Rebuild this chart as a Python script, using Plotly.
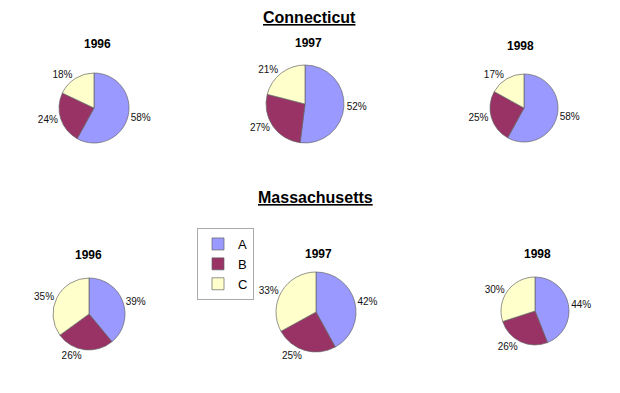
import plotly.graph_objects as go

categories = ["A", "B", "C"]
colors = ["#9999FF", "#993366", "#FFFFCC"]
years = ["1996", "1997", "1998"]
ct_values = [[58, 24, 18], [52, 27, 21], [58, 25, 17]]
ma_values = [[39, 26, 35], [42, 25, 33], [44, 26, 30]]

W, H = 620, 393
# pixel centers and radii for pies (layout only)
ct_layout = [(94, 108, 35), (305, 104, 39), (524, 108, 34)]
ma_layout = [(89, 314, 36), (316, 312, 40), (535, 311, 34)]
ct_title_pos = [(97, 44), (308, 43), (520, 46)]
ma_title_pos = [(88, 255), (318, 254), (537, 254)]

fig = go.Figure()

def add_pie(vals, cx, cy, r, show):
    fig.add_trace(go.Pie(
        labels=categories, values=vals,
        marker=dict(colors=colors, line=dict(color="#666666", width=0.7)),
        sort=False, direction="clockwise", rotation=0,
        textinfo="text", texttemplate="%{value}%", textposition="outside",
        textfont=dict(family="Liberation Sans, Arial", size=10, color="#111111"),
        domain=dict(x=[(cx - r) / W, (cx + r) / W], y=[(H - cy - r) / H, (H - cy + r) / H]),
        showlegend=show, hoverinfo="label+percent",
    ))

for i, (cx, cy, r) in enumerate(ct_layout):
    add_pie(ct_values[i], cx, cy, r, i == 0)
for i, (cx, cy, r) in enumerate(ma_layout):
    add_pie(ma_values[i], cx, cy, r, False)

annotations = []
for (x, y), yr in zip(ct_title_pos + ma_title_pos, years + years):
    annotations.append(dict(x=x / W, y=(H - y) / H, xref="paper", yref="paper",
                            xanchor="center", yanchor="middle",
                            text=f"<b>{yr}</b>", showarrow=False,
                            font=dict(family="Liberation Sans, Arial", size=12, color="#000")))
annotations.append(dict(x=309 / W, y=(H - 18) / H, xref="paper", yref="paper",
                        xanchor="center", yanchor="middle",
                        text="<b><u>Connecticut</u></b>", showarrow=False,
                        font=dict(family="Liberation Sans, Arial", size=16, color="#000")))
annotations.append(dict(x=315 / W, y=(H - 198) / H, xref="paper", yref="paper",
                        xanchor="center", yanchor="middle",
                        text="<b><u>Massachusetts</u></b>", showarrow=False,
                        font=dict(family="Liberation Sans, Arial", size=16, color="#000")))

fig.update_layout(
    width=W, height=H,
    margin=dict(l=0, r=0, t=0, b=0),
    paper_bgcolor="white", plot_bgcolor="white",
    annotations=annotations,
    legend=dict(x=254 / W, y=(H - 228) / H, xanchor="right", yanchor="top",
                bordercolor="#AAAAAA", borderwidth=1, bgcolor="white",
                font=dict(family="Liberation Sans, Arial", size=13, color="#000"),
                itemwidth=30, tracegroupgap=0),
)

fig.write_html("out.html", config={"displayModeBar": False},
               post_script="document.body.style.margin='0';")
